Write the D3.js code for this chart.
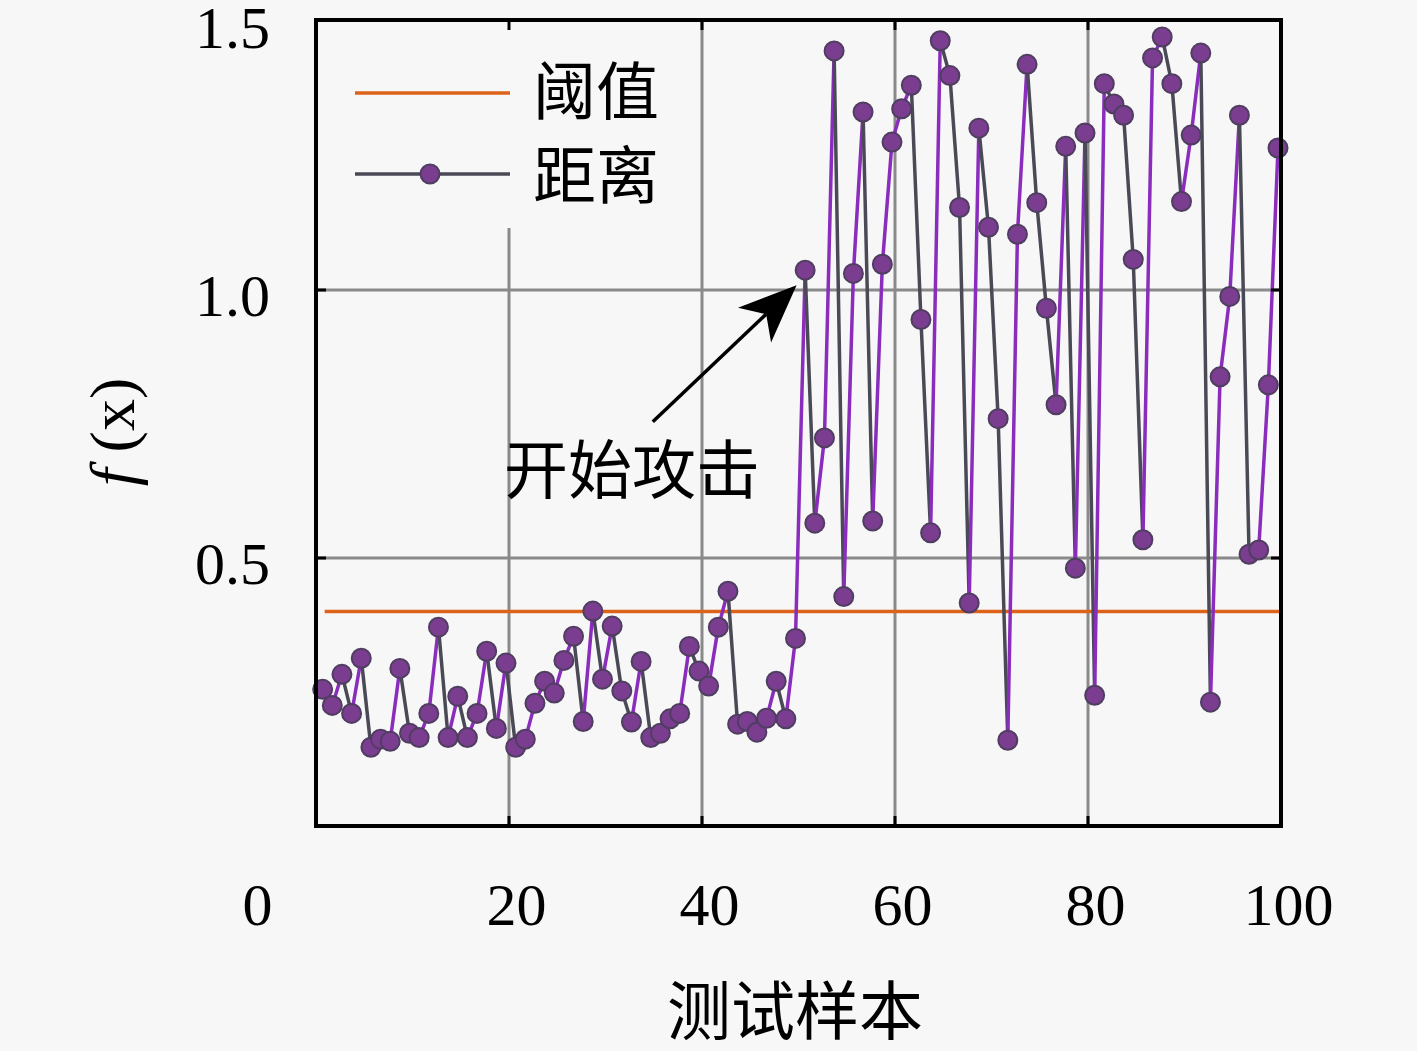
<!DOCTYPE html>
<html>
<head>
<meta charset="utf-8">
<script src="https://cdn.jsdelivr.net/npm/d3@7"></script>
<style>
  html, body { margin: 0; padding: 0; background: #f7f7f7; }
  svg { display: block; }
</style>
</head>
<body>
<svg id="chart" width="1417" height="1051"></svg>
<script>
// ---------------- data ----------------
const sampleIndex = d3.range(1, 101);
const distanceValues = [
  0.255, 0.225, 0.283, 0.210, 0.313, 0.147, 0.162, 0.158, 0.294, 0.173,
  0.165, 0.210, 0.371, 0.165, 0.242, 0.165, 0.210, 0.326, 0.182, 0.304,
  0.147, 0.162, 0.229, 0.270, 0.248, 0.309, 0.354, 0.195, 0.401, 0.274,
  0.373, 0.252, 0.194, 0.307, 0.165, 0.173, 0.200, 0.210, 0.335, 0.289,
  0.261, 0.371, 0.438, 0.190, 0.195, 0.175, 0.201, 0.270, 0.200, 0.350,
  1.037, 0.565, 0.724, 1.446, 0.428, 1.031, 1.332, 0.569, 1.048, 1.276,
  1.338, 1.382, 0.945, 0.547, 1.465, 1.400, 1.154, 0.416, 1.302, 1.117,
  0.760, 0.160, 1.104, 1.421, 1.163, 0.966, 0.786, 1.268, 0.481, 1.293,
  0.244, 1.385, 1.347, 1.326, 1.057, 0.534, 1.433, 1.472, 1.385, 1.165,
  1.289, 1.442, 0.231, 0.838, 0.988, 1.326, 0.507, 0.515, 0.823, 1.265
];
const thresholdValue = 0.4;
const xTicks = [0, 20, 40, 60, 80, 100];
const yTicks = [0.5, 1.0, 1.5];
const xGrid = [20, 40, 60, 80];
const yGrid = [0.5, 1.0];
const legendLabels = ["阈值", "距离"];
const xAxisTitle = "测试样本";
const annotationText = "开始攻击";
const arrowTail = [34.9, 0.754];
const arrowTip = [49.8, 1.009];

// ---------------- layout ----------------
const L = 316, R = 1281, T = 22, B = 826;
const svg = d3.select("#chart");
const x = d3.scaleLinear().domain([0, 100]).range([L - 3, R - 3]);
const xg = d3.scaleLinear().domain([0, 100]).range([L, R]);
const y = d3.scaleLinear().domain([0, 1.5]).range([B, T]);

const numFont = "'Liberation Serif', 'DejaVu Serif', serif";
const cjkFont = "'Noto Sans CJK SC', sans-serif";
const bg = "#f7f7f7";
const purple = "#8a2cbc", gray = "#4a4956", orange = "#dd631a";

svg.append("rect").attr("width", 1417).attr("height", 1051).attr("fill", bg);

// grid
const grid = svg.append("g").attr("stroke", "#8a8a8a").attr("stroke-width", 3);
grid.selectAll(".gx").data(xGrid).join("line")
  .attr("x1", d => xg(d)).attr("x2", d => xg(d)).attr("y1", T).attr("y2", B);
grid.selectAll(".gy").data(yGrid).join("line")
  .attr("y1", d => y(d)).attr("y2", d => y(d)).attr("x1", L).attr("x2", R);

// legend background (covers grid)
svg.append("rect").attr("x", L + 2).attr("y", T).attr("width", 372).attr("height", 206)
  .attr("fill", bg);

// threshold line
svg.append("line")
  .attr("x1", x(sampleIndex[0]) + 2).attr("x2", xg(100))
  .attr("y1", y(thresholdValue)).attr("y2", y(thresholdValue))
  .attr("stroke", orange).attr("stroke-width", 3.5);

// distance segments
const pts = sampleIndex.map((d, i) => [d, distanceValues[i]]);
const segs = d3.pairs(pts);
svg.append("g").selectAll("line").data(segs).join("line")
  .attr("x1", d => x(d[0][0])).attr("y1", d => y(d[0][1]))
  .attr("x2", d => x(d[1][0])).attr("y2", d => y(d[1][1]))
  .attr("stroke", d => d[1][1] >= d[0][1] ? purple : gray)
  .attr("stroke-width", 3.5).attr("stroke-linecap", "round");

// markers
svg.append("g").selectAll("circle").data(pts).join("circle")
  .attr("cx", d => x(d[0])).attr("cy", d => y(d[1])).attr("r", 9.5)
  .attr("fill", "#7a3d90").attr("stroke", "#4f3e60").attr("stroke-width", 2);

// frame
svg.append("rect").attr("x", L).attr("y", T - 2).attr("width", R - L).attr("height", B - T + 2)
  .attr("fill", "none").attr("stroke", "#000").attr("stroke-width", 4);

// inward ticks
const tk = svg.append("g").attr("stroke", "#000").attr("stroke-width", 3);
xTicks.slice(1, -1).forEach(v => {
  tk.append("line").attr("x1", xg(v)).attr("x2", xg(v)).attr("y1", B).attr("y2", B - 10);
  tk.append("line").attr("x1", xg(v)).attr("x2", xg(v)).attr("y1", T - 2).attr("y2", T + 8);
});
yTicks.slice(0, -1).forEach(v => {
  tk.append("line").attr("x1", L).attr("x2", L + 10).attr("y1", y(v)).attr("y2", y(v));
  tk.append("line").attr("x1", R).attr("x2", R - 10).attr("y1", y(v)).attr("y2", y(v));
});

// axes labels via d3 axes
const yAxis = svg.append("g").attr("transform", `translate(${L},0)`)
  .call(d3.axisLeft(y).tickValues(yTicks).tickFormat(d3.format(".1f")).tickSize(0).tickPadding(46));
yAxis.select(".domain").remove();
yAxis.selectAll("text").attr("font-family", numFont).attr("font-size", 60)
  .attr("fill", "#000").attr("dy", "0.32em").attr("y", 6);

const xAxis = svg.append("g").attr("transform", `translate(0,${B})`)
  .call(d3.axisBottom(xg).tickValues(xTicks).tickFormat(d3.format("d")).tickSize(0));
xAxis.select(".domain").remove();
xAxis.selectAll("text").attr("font-family", numFont).attr("font-size", 60)
  .attr("fill", "#000").attr("dy", 0).attr("y", 99)
  .attr("dx", d => d === 0 ? -59 : 7);

// axis titles
svg.append("text").attr("x", 795).attr("y", 1034).attr("text-anchor", "middle")
  .attr("font-family", cjkFont).attr("font-size", 64).attr("fill", "#000").text(xAxisTitle);

const yt = svg.append("text").attr("transform", "translate(134,432) rotate(-90)")
  .attr("text-anchor", "middle").attr("font-family", numFont).attr("font-size", 64).attr("fill", "#000");
yt.append("tspan").attr("font-style", "italic").text("f");
yt.append("tspan").text(" (x)");

// legend
svg.append("line").attr("x1", 355).attr("x2", 510).attr("y1", 93).attr("y2", 93)
  .attr("stroke", orange).attr("stroke-width", 3.5);
svg.append("line").attr("x1", 355).attr("x2", 510).attr("y1", 174).attr("y2", 174)
  .attr("stroke", gray).attr("stroke-width", 3.5);
svg.append("circle").attr("cx", 430).attr("cy", 174).attr("r", 9.5)
  .attr("fill", "#7a3d90").attr("stroke", "#4f3e60").attr("stroke-width", 2);
svg.selectAll(".lg").data(legendLabels).join("text")
  .attr("x", 533).attr("y", (d, i) => 114 + i * 84)
  .attr("font-family", cjkFont).attr("font-size", 63).attr("fill", "#000").text(d => d);

// annotation
svg.append("text").attr("x", 632).attr("y", 493).attr("text-anchor", "middle")
  .attr("font-family", cjkFont).attr("font-size", 64).attr("fill", "#000").text(annotationText);

const tx = xg(arrowTail[0]), ty = y(arrowTail[1]);
const hx = xg(arrowTip[0]), hy = y(arrowTip[1]);
const dx = hx - tx, dy = hy - ty, len = Math.hypot(dx, dy);
const ux = dx / len, uy = dy / len, px = -uy, py = ux;
const hl = 58, hw = 24, notch = 42;
const bx = hx - ux * hl, by = hy - uy * hl;
svg.append("line").attr("x1", tx).attr("y1", ty)
  .attr("x2", hx - ux * notch).attr("y2", hy - uy * notch)
  .attr("stroke", "#000").attr("stroke-width", 3.5);
svg.append("path")
  .attr("d", `M${hx},${hy} L${bx + px * hw},${by + py * hw} L${hx - ux * notch},${hy - uy * notch} L${bx - px * hw},${by - py * hw} Z`)
  .attr("fill", "#000");
</script>
</body>
</html>
